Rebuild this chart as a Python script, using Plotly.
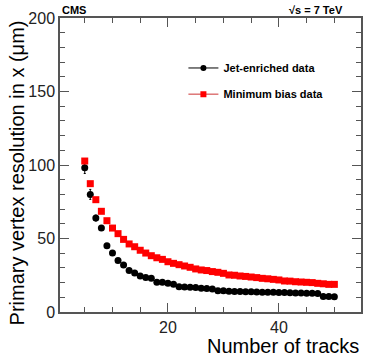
import plotly.graph_objects as go

# number of tracks per vertex
tracks = list(range(5, 51))

# jet-enriched sample: resolution in x (um)
jet_res = [98.2, 80.0, 63.9, 57.1, 45.1, 40.1, 35.1, 32.0, 28.3, 26.5,
           24.5, 23.4, 22.9, 20.2, 20.2, 19.5, 18.8, 17.2, 17.0, 16.8,
           16.6, 16.1, 16.0, 15.6, 14.5, 14.4, 14.1, 13.9, 13.9, 13.8,
           13.7, 13.6, 13.5, 13.5, 13.4, 13.3, 13.2, 13.1, 13.0, 12.9,
           12.8, 12.7, 12.6, 10.6, 10.5, 10.4]
jet_err = [4.0, 3.4, 2.0, 1.5, 1.0, 0.8, 0.7, 0.6, 0.5, 0.5,
           0.4, 0.4, 0.4, 0.4, 0.4, 0.4, 0.4, 0.4, 0.4, 0.4,
           0.4, 0.4, 0.4, 0.4, 0.4, 0.4, 0.4, 0.4, 0.4, 0.4,
           0.4, 0.4, 0.4, 0.4, 0.4, 0.4, 0.4, 0.4, 0.4, 0.4,
           0.4, 0.4, 0.4, 0.4, 0.4, 0.4]

# minimum bias sample
mb_res = [102.7, 87.3, 76.4, 68.5, 62.1, 57.1, 53.3, 49.4, 46.3, 44.4,
          42.0, 40.1, 38.3, 36.9, 35.8, 34.2, 33.1, 32.2, 31.3, 30.4,
          29.3, 28.6, 28.2, 27.5, 27.0, 26.3, 25.2, 25.0, 24.5, 24.2,
          23.8, 23.4, 22.9, 22.6, 22.2, 21.8, 21.1, 21.0, 20.6, 20.4,
          20.2, 20.0, 19.5, 19.2, 18.8, 18.8]

font = "Liberation Sans, Arial, Helvetica, sans-serif"

fig = go.Figure()
fig.add_trace(go.Scatter(x=tracks, y=jet_res, mode="markers",
                         marker=dict(symbol="circle", size=7, color="black"),
                         error_y=dict(type="data", array=jet_err, color="black",
                                      thickness=1, width=1),
                         showlegend=False))
fig.add_trace(go.Scatter(x=tracks, y=mb_res, mode="markers",
                         marker=dict(symbol="square", size=7, color="#ff0000"),
                         showlegend=False))
# legend entries (ROOT style line + marker), one legend box each
fig.add_trace(go.Scatter(x=[None], y=[None], mode="lines+markers",
                         name="Jet-enriched data", legend="legend",
                         line=dict(color="black", width=1),
                         marker=dict(symbol="circle", size=6, color="black")))
fig.add_trace(go.Scatter(x=[None], y=[None], mode="lines+markers",
                         name="Minimum bias data", legend="legend2",
                         line=dict(color="#cc3333", width=1),
                         marker=dict(symbol="square", size=6, color="#ff0000")))

axis_common = dict(showgrid=False, zeroline=False, showline=True,
                   automargin=False,
                   linecolor="#555555", linewidth=1.5, mirror="ticks",
                   ticks="inside", tickcolor="#555555", tickwidth=1,
                   tickfont=dict(family=font, size=16, color="#222222"))

legend_common = dict(xanchor="left", yanchor="middle",
                     bgcolor="rgba(0,0,0,0)", itemwidth=30,
                     font=dict(family=font, size=11, color="black",
                               weight="bold"))

fig.update_layout(
    width=374, height=359,
    margin=dict(l=60, r=13, t=18, b=47),
    paper_bgcolor="white", plot_bgcolor="white",
    font=dict(family=font, color="black"),
    xaxis=dict(range=[0.54, 54.8], dtick=20, ticklen=9,
               minor=dict(ticks="inside", dtick=5, ticklen=5,
                          tickcolor="#555555"),
               **axis_common),
    yaxis=dict(range=[0, 200], dtick=50, ticklen=9,
               minor=dict(ticks="inside", dtick=10, ticklen=5,
                          tickcolor="#555555"),
               **axis_common),
    legend=dict(x=0.41, y=0.83, **legend_common),
    legend2=dict(x=0.41, y=0.741, **legend_common),
    annotations=[
        dict(text="Number of tracks", xref="paper", yref="paper",
             x=1, y=-0.072, xanchor="right", yanchor="top", showarrow=False,
             font=dict(family=font, size=20)),
        dict(text="Primary vertex resolution in x (μm)", xref="paper",
             yref="paper", x=-0.143, y=1, xanchor="center", yanchor="top",
             textangle=-90, showarrow=False, font=dict(family=font, size=20)),
        dict(text="<b>CMS</b>", xref="paper", yref="paper", x=0, y=1,
             xanchor="left", yanchor="bottom", showarrow=False,
             font=dict(family=font, size=11)),
        dict(text="<b>√s = 7 TeV</b>", xref="paper", yref="paper", x=0.947,
             y=1, xanchor="right", yanchor="bottom", showarrow=False,
             font=dict(family=font, size=11)),
    ],
)

# drop the default 8px page margin so the figure fills the window
fig.write_html("out.html", config={"displayModeBar": False},
               post_script="document.body.style.margin='0';")
